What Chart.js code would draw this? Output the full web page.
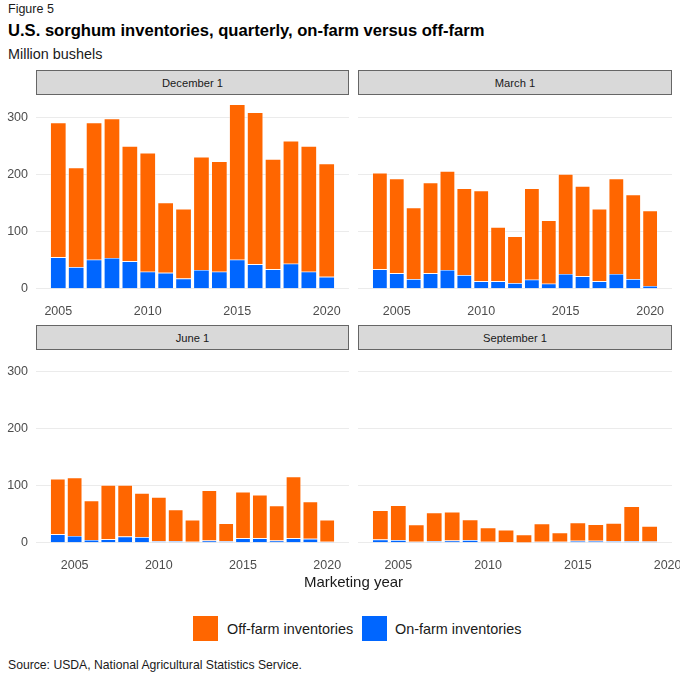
<!DOCTYPE html>
<html>
<head>
<meta charset="utf-8">
<script src="https://cdn.jsdelivr.net/npm/chart.js@4"></script>
<style>
  body { margin: 0; background: #fff; }
  #page { position: relative; width: 680px; height: 680px; font-family: "Liberation Sans", Arial, sans-serif; color: #1a1a1a; overflow: hidden; }
  .txt { position: absolute; line-height: 1; white-space: nowrap; }
  .strip { position: absolute; height: 25px; box-sizing: border-box; background: #d9d9d9; border: 1.5px solid #666;
           display: flex; align-items: center; justify-content: center; font-size: 11.2px; color: #1a1a1a; }
  canvas { position: absolute; }
  .key { position: absolute; width: 25px; height: 25px; }
</style>
</head>
<body>
<div id="page">
  <div class="txt" style="left:8px; top:2.7px; font-size:12.5px;">Figure 5</div>
  <div class="txt" style="left:8px; top:22.8px; font-size:16.6px; font-weight:bold; color:#000;">U.S. sorghum inventories, quarterly, on-farm versus off-farm</div>
  <div class="txt" style="left:8px; top:47.4px; font-size:14.4px;">Million bushels</div>

  <div class="strip" style="left:36px; top:70px; width:313px;">December 1</div>
  <div class="strip" style="left:358px; top:70px; width:314px;">March 1</div>
  <div class="strip" style="left:36px; top:325px; width:313px;">June 1</div>
  <div class="strip" style="left:358px; top:325px; width:314px;">September 1</div>

  <canvas id="chart-dec" width="349" height="228" style="left:0; top:95px;"></canvas>
  <canvas id="chart-mar" width="322" height="228" style="left:358px; top:95px;"></canvas>
  <canvas id="chart-jun" width="349" height="228" style="left:0; top:349px;"></canvas>
  <canvas id="chart-sep" width="322" height="228" style="left:358px; top:349px;"></canvas>

  <div class="txt" style="left:0; width:707px; text-align:center; top:574px; font-size:15px;">Marketing year</div>

  <div class="key" style="left:193px; top:616px; background:#ff6600;"></div>
  <div class="txt" style="left:227px; top:621.8px; font-size:14.4px;">Off-farm inventories</div>
  <div class="key" style="left:362px; top:616px; background:#0066ff;"></div>
  <div class="txt" style="left:395px; top:621.8px; font-size:14.4px;">On-farm inventories</div>

  <div class="txt" style="left:8px; top:659px; font-size:12.2px;">Source: USDA, National Agricultural Statistics Service.</div>
</div>

<script>
/* sorghum stocks by quarter, million bushels — on-farm and off-farm stacked */

const decYears = [2005, 2006, 2007, 2008, 2009, 2010, 2011, 2012, 2013, 2014, 2015, 2016, 2017, 2018, 2019, 2020];
const decOnFarm = [55, 38, 51, 54, 48, 30, 28, 18, 33, 30, 51, 43, 34, 44, 30, 21];
const decOffFarm = [236, 174, 240, 244, 202, 208, 123, 122, 198, 193, 272, 266, 193, 215, 220, 198];

const marYears = [2004, 2005, 2006, 2007, 2008, 2009, 2010, 2011, 2012, 2013, 2014, 2015, 2016, 2017, 2018, 2019, 2020];
const marOnFarm = [34, 27, 17, 27, 33, 24, 13, 13, 10, 16, 9, 26, 22, 13, 26, 17, 5];
const marOffFarm = [169, 166, 125, 159, 173, 152, 159, 95, 82, 160, 111, 175, 158, 127, 167, 148, 132];

const junYears = [2004, 2005, 2006, 2007, 2008, 2009, 2010, 2011, 2012, 2013, 2014, 2015, 2016, 2017, 2018, 2019, 2020];
const junOnFarm = [15, 12, 5, 6, 11, 10, 2.5, 3, 2, 4, 2.5, 8, 8, 4, 8, 7, 2];
const junOffFarm = [97, 102, 69, 95, 90, 77, 77.5, 55, 38, 88, 31.5, 81, 76, 61, 108, 65, 38];

const sepYears = [2004, 2005, 2006, 2007, 2008, 2009, 2010, 2011, 2012, 2013, 2014, 2015, 2016, 2017, 2018, 2019];
const sepOnFarm = [5.8, 4.7, 1.8, 2.9, 4, 4.7, 1.8, 1.2, 0.6, 1.8, 1.8, 3.5, 3.5, 2.9, 2.9, 2.3];
const sepOffFarm = [51, 61, 30, 50, 50, 36, 25, 21.5, 14, 32, 16, 32, 29, 31.5, 61, 27];

const xTicks = [2005, 2010, 2015, 2020];
const yTicks = [0, 100, 200, 300];

const OFF_COLOR = "#ff6600";
const ON_COLOR = "#0066ff";
const TICK_FONT = { family: "'Liberation Sans', Arial, sans-serif", size: 12.5 };

const PANELS = [
  { id: "chart-dec", years: decYears, on: decOnFarm, off: decOffFarm, yLabels: true },
  { id: "chart-mar", years: marYears, on: marOnFarm, off: marOffFarm, yLabels: false },
  { id: "chart-jun", years: junYears, on: junOnFarm, off: junOffFarm, yLabels: true },
  { id: "chart-sep", years: sepYears, on: sepOnFarm, off: sepOffFarm, yLabels: false },
];

// shared y range, ggplot-style 5% expansion of the largest stacked total
const maxTotal = Math.max(...PANELS.flatMap((p) => p.on.map((v, i) => v + p.off[i])));
const yMin = -0.05 * maxTotal;
const yMax = 1.05 * maxTotal;

function xLimits(years) {
  const lo = Math.min(...years) - 0.45;
  const hi = Math.max(...years) + 0.45;
  const pad = 0.05 * (hi - lo);
  return { min: lo - pad, max: hi + pad };
}

function makePanel(p) {
  const lim = xLimits(p.years);
  return new Chart(document.getElementById(p.id), {
    type: "bar",
    data: {
      datasets: [
        { label: "On-farm inventories", data: p.years.map((y, i) => ({ x: y, y: p.on[i] })),
          backgroundColor: ON_COLOR, borderColor: "rgba(255,255,255,0.55)", borderWidth: 0.7 },
        { label: "Off-farm inventories", data: p.years.map((y, i) => ({ x: y, y: p.off[i] })),
          backgroundColor: OFF_COLOR, borderColor: "rgba(255,255,255,0.55)", borderWidth: 0.7 },
      ],
    },
    options: {
      responsive: false, animation: false,
      categoryPercentage: 0.9, barPercentage: 1,
      // right-hand panels get room for the last year label to spill past the plot
      layout: { padding: { left: 0, top: 0, bottom: 0, right: p.yLabels ? 0 : 8 } },
      plugins: { legend: { display: false }, tooltip: { enabled: false } },
      scales: {
        x: {
          type: "linear", stacked: true, offset: false, min: lim.min, max: lim.max,
          grid: { display: false, offset: false, drawTicks: false }, border: { display: false },
          afterBuildTicks: (s) => { s.ticks = xTicks.map((v) => ({ value: v })); },
          afterFit: (s) => { s.height = 25; s.paddingLeft = 0; s.paddingRight = 0; },
          ticks: { color: "#4d4d4d", font: TICK_FONT, padding: 6, maxRotation: 0, autoSkip: false, callback: (v) => String(v) },
        },
        y: {
          type: "linear", stacked: true, min: yMin, max: yMax,
          grid: { color: "#ebebeb", lineWidth: 1.1, drawTicks: false }, border: { display: false },
          afterBuildTicks: (s) => { s.ticks = yTicks.map((v) => ({ value: v })); },
          afterFit: (s) => { s.width = p.yLabels ? 36 : 0; s.paddingTop = 0; s.paddingBottom = 0; },
          ticks: { display: p.yLabels, color: "#4d4d4d", font: TICK_FONT, padding: 8, callback: (v) => String(v) },
        },
      },
    },
  });
}

PANELS.forEach(makePanel);
</script>
</body>
</html>
